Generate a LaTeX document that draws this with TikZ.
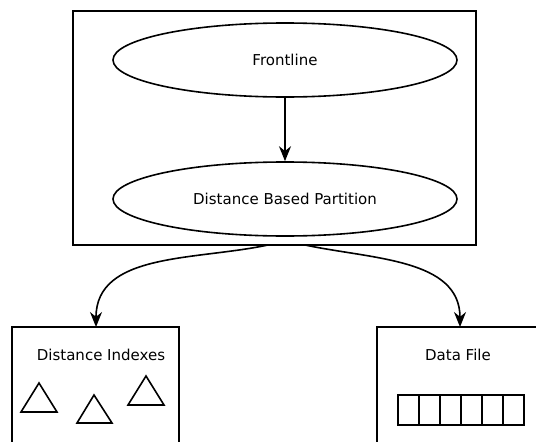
\documentclass[tikz,border=0pt]{standalone}
\usepackage{fontspec}
\setmainfont{DejaVu Sans}
\usetikzlibrary{shapes.geometric,arrows.meta}

\begin{document}
\begin{tikzpicture}[x=1pt,y=-1pt,line width=1.6pt,
	every node/.style={font=\fontsize{15}{17}\selectfont},
	stage/.style={draw,ellipse,minimum width=344pt,minimum height=74pt},
	flow/.style={-{Stealth[length=15pt,width=12pt]}}]
		\useasboundingbox (0,0) rectangle (536,442);

		\draw (73,11) rectangle (476,245);
		\node[stage] (front) at (285,60) {Frontline};
		\node[stage] (part) at (285,199) {Distance Based Partition};
		\draw[flow] (front) -- (part);

		\coordinate (outl) at (268,245);
		\coordinate (outr) at (305,245);

		% index store
		\draw (12,327) rectangle (179,450);
		\coordinate (idx) at (96,327);
		\path (101,355) node (idxlabel) {Distance Indexes};
		\draw (21,412) -- (39,383) -- (57,412) -- cycle;
		\draw (77,423) -- (94,395) -- (112,423) -- cycle;
		\draw (128,405) -- (146,376) -- (164,405) -- cycle;

		% data store
		\draw (377,327) rectangle (545,450);
		\coordinate (dat) at (460,327);
		\path (458,355) node (datlabel) {Data File};
		\foreach \i in {0,...,5}
			\draw (398+\i*21,395) rectangle +(21,30);

		\draw[flow] (outl) to[out=192,in=90] (idx);
		\draw[flow] (outr) to[out=-12,in=90] (dat);
	\end{tikzpicture}
\end{document}
